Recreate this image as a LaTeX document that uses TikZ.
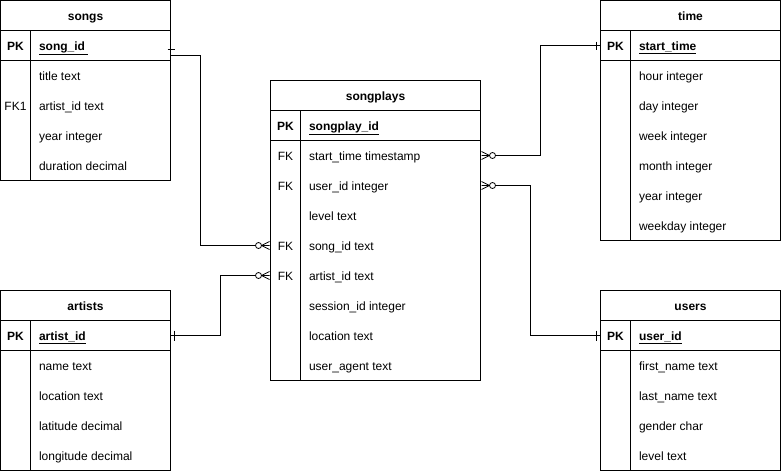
\documentclass[tikz,border=0pt]{standalone}
\usepackage{fontspec}
\setmainfont{Liberation Sans}
\newcommand\ERtable[6]{%
  \node[tbl, minimum width=#4pt, minimum height=#5pt] (#1) at (#2,#3) {};
  \draw ([yshift=-30pt]#1.north west) -- ([yshift=-30pt]#1.north east);
  \draw ([yshift=-60pt]#1.north west) -- ([yshift=-60pt]#1.north east);
  \draw ([xshift=30pt,yshift=-30pt]#1.north west) -- ([xshift=30pt]#1.south west);
  \node[ttl] (#1-title) at ([yshift=-15pt]#1.north) {#1};
  \node[keylbl, font=\bfseries\fontsize{12}{14}\selectfont] (#1-pkl) at ([xshift=15pt,yshift=-45pt]#1.north west) {PK};
  \node[fld, font=\bfseries\fontsize{12}{14}\selectfont] (#1-pk) at ([xshift=38pt,yshift=-45pt]#1.north west) {\underline{#6}};
}
\begin{document}
\begin{tikzpicture}[x=1pt,y=-1pt, line width=1pt,
  tbl/.style={draw, inner sep=0pt, outer sep=0pt, anchor=north west},
  ttl/.style={inner sep=0pt, text height=9pt, text depth=0pt, font=\bfseries\fontsize{12}{14}\selectfont},
  fld/.style={anchor=west, inner sep=0pt, text height=9pt, text depth=0pt, font=\fontsize{12}{14}\selectfont},
  keylbl/.style={inner sep=0pt, text height=9pt, text depth=0pt, font=\fontsize{12}{14}\selectfont},
  conn/.style={draw, line width=1pt},
  zmany/.pic={
    \draw[line width=0.8pt] (-12,0) circle[radius=3pt];
    \draw[line width=0.8pt] (-9,0) -- (-1,-4) (-9,0) -- (-1,0) (-9,0) -- (-1,4);
  }
]
\useasboundingbox (0,0) rectangle (781,471);

% songs
\ERtable{songs}{0.5}{0.5}{170}{180}{song\_id\ }
\foreach \t [count=\i] in {title text, artist\_id text, year integer, duration decimal}
  \node[fld] (songs-\i) at ([xshift=38pt,yshift={-45pt-30pt*\i}]songs.north west) {\t};
\node[keylbl] (songs-fk1) at (songs-pkl |- songs-2) {FK1};

% artists
\ERtable{artists}{0.5}{290.5}{170}{180}{artist\_id}
\foreach \t [count=\i] in {name text, location text, latitude decimal, longitude decimal}
  \node[fld] (artists-\i) at ([xshift=38pt,yshift={-45pt-30pt*\i}]artists.north west) {\t};

% songplays
\ERtable{songplays}{270.5}{80.5}{210}{300}{songplay\_id}
\foreach \t [count=\i] in {start\_time timestamp, user\_id integer, level text, song\_id text, artist\_id text, session\_id integer, location text, user\_agent text}
  \node[fld] (songplays-\i) at ([xshift=38pt,yshift={-45pt-30pt*\i}]songplays.north west) {\t};
\foreach \i in {1,2,4,5}
  \node[keylbl] (songplays-fk\i) at (songplays-pkl |- songplays-\i) {FK};

% time
\ERtable{time}{600.5}{0.5}{180}{240}{start\_time}
\foreach \t [count=\i] in {hour integer, day integer, week integer, month integer, year integer, weekday integer}
  \node[fld] (time-\i) at ([xshift=38pt,yshift={-45pt-30pt*\i}]time.north west) {\t};

% users
\ERtable{users}{600.5}{290.5}{180}{180}{user\_id}
\foreach \t [count=\i] in {first\_name text, last\_name text, gender char, level text}
  \node[fld] (users-\i) at ([xshift=38pt,yshift={-45pt-30pt*\i}]users.north west) {\t};

% connectors
\draw[conn] ([yshift=-10pt]songs.east |- songs-pk) -- ++(30,0) |- ([xshift=-15pt]songplays.west |- songplays-4);
\draw[line width=0.8pt] ([xshift=-3pt,yshift=-4pt]songs.east |- songs-pk) -- ++(7,0);
\pic at (songplays.west |- songplays-4) {zmany};

\draw[conn] (artists.east |- artists-pk) -- ++(50,0) |- ([xshift=-15pt]songplays.west |- songplays-5);
\draw[line width=0.8pt] ([xshift=4pt]artists.east |- artists-pk) ++(0,-5) -- ++(0,10);
\pic at (songplays.west |- songplays-5) {zmany};

\draw[conn] (time.west |- time-pk) -- ++(-60,0) |- ([xshift=15pt]songplays.east |- songplays-1);
\draw[line width=0.8pt] ([xshift=-4pt]time.west |- time-pk) ++(0,-4) -- ++(0,8);
\pic[xscale=-1] at (songplays.east |- songplays-1) {zmany};

\draw[conn] (users.west |- users-pk) -- ++(-70,0) |- ([xshift=15pt]songplays.east |- songplays-2);
\draw[line width=0.8pt] ([xshift=-4pt]users.west |- users-pk) ++(0,-5) -- ++(0,10);
\pic[xscale=-1] at (songplays.east |- songplays-2) {zmany};
\end{tikzpicture}
\end{document}
